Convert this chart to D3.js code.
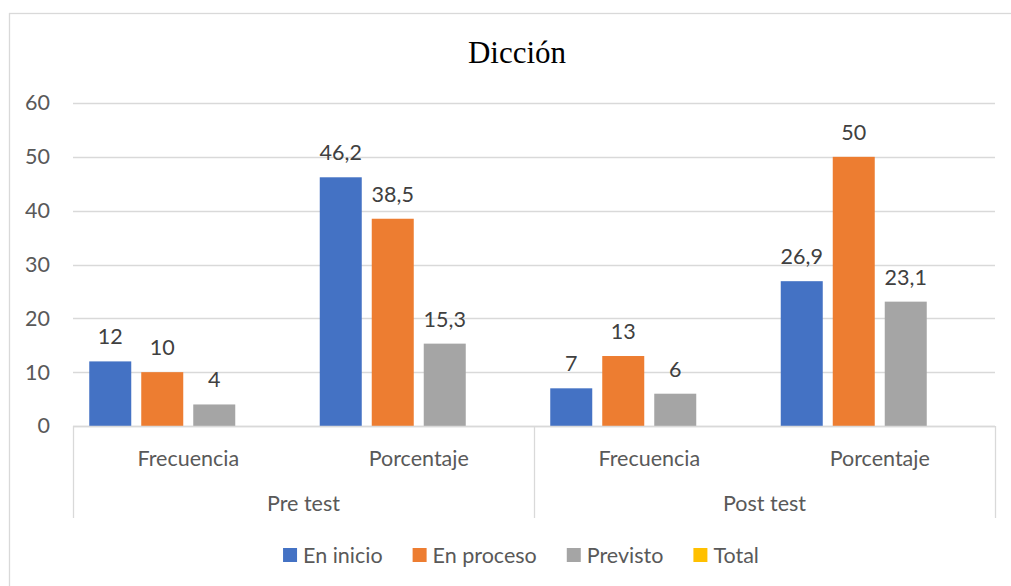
<!DOCTYPE html>
<html>
<head>
<meta charset="utf-8">
<script src="https://cdn.jsdelivr.net/npm/d3@7"></script>
<style>
  html, body { margin: 0; padding: 0; background: #fff; }
  svg { display: block; }
</style>
</head>
<body>
<svg id="chart" width="1011" height="586"></svg>
<script>
// ---- data ----
const title = "Dicción";
const groups = ["Pre test", "Post test"];
const subCategories = ["Frecuencia", "Porcentaje"];
const seriesNames = ["En inicio", "En proceso", "Previsto", "Total"];
const seriesColors = ["#4472C4", "#ED7D31", "#A5A5A5", "#FFC000"];
const enInicio   = [12, 46.2, 7, 26.9];
const enProceso  = [10, 38.5, 13, 50];
const previsto   = [4, 15.3, 6, 23.1];
const total      = [null, null, null, null];
const yTicks = [0, 10, 20, 30, 40, 50, 60];

const seriesValues = [enInicio, enProceso, previsto, total];
const categories = [];
groups.forEach(g => subCategories.forEach(s => categories.push({ key: g + "|" + s, group: g, sub: s })));

const labelFont = "Lato, 'Open Sans', sans-serif";
const fs = 21.5;
const fmt = d3.formatLocale({ decimal: ",", thousands: ".", grouping: [3], currency: ["", ""] });
const fmtVal = v => (Number.isInteger(v) ? String(v) : fmt.format(".1f")(v));

const svg = d3.select("#chart");

// chart border (only top and left visible)
svg.append("rect").attr("x", 9.5).attr("y", 13.5).attr("width", 1040).attr("height", 600)
  .attr("fill", "none").attr("stroke", "#d9d9d9").attr("stroke-width", 1.3);

const plot = { left: 73, right: 995, top: 103, bottom: 426 };

const x0 = d3.scaleBand().domain(categories.map(c => c.key)).range([plot.left, plot.right]).padding(0);
const x1 = d3.scaleBand().domain(seriesNames).range([0, x0.bandwidth()]).paddingInner(0.1923).paddingOuter(0.3125);
const y = d3.scaleLinear().domain([0, 60]).range([plot.bottom, plot.top]);

// gridlines
svg.append("g").selectAll("line").data(yTicks).join("line")
  .attr("x1", plot.left).attr("x2", plot.right)
  .attr("y1", d => Math.round(y(d)) + 0.5).attr("y2", d => Math.round(y(d)) + 0.5)
  .attr("stroke", "#d9d9d9").attr("stroke-width", 1.3);

// y axis labels
const yAxis = d3.axisLeft(y).tickValues(yTicks).tickSize(0).tickPadding(0).tickFormat(d3.format("d"));
const yg = svg.append("g").attr("transform", `translate(50,0)`).call(yAxis);
yg.select(".domain").remove();
yg.selectAll("text").attr("font-family", labelFont).attr("font-size", fs).attr("fill", "#595959");

// bars
const catG = svg.append("g").selectAll("g").data(categories).join("g")
  .attr("transform", d => `translate(${x0(d.key)},0)`);

catG.each(function (c, ci) {
  const g = d3.select(this);
  const data = seriesNames.map((s, si) => ({ s, si, v: seriesValues[si][ci] })).filter(d => d.v != null);
  g.selectAll("rect").data(data).join("rect")
    .attr("x", d => x1(d.s)).attr("width", x1.bandwidth())
    .attr("y", d => y(d.v)).attr("height", d => y(0) - y(d.v))
    .attr("fill", d => seriesColors[d.si]);
  g.selectAll("text").data(data).join("text")
    .attr("x", d => x1(d.s) + x1.bandwidth() / 2)
    .attr("y", d => y(d.v) - 17)
    .attr("text-anchor", "middle")
    .attr("font-family", labelFont).attr("font-size", fs).attr("fill", "#404040")
    .text(d => fmtVal(d.v));
});

// x axis line and category dividers
svg.append("line").attr("x1", plot.left).attr("x2", plot.right)
  .attr("y1", plot.bottom + 0.5).attr("y2", plot.bottom + 0.5)
  .attr("stroke", "#d9d9d9").attr("stroke-width", 1.3);

const groupEdges = [plot.left].concat(groups.map((g, i) => x0(g + "|" + subCategories[subCategories.length - 1]) + x0.bandwidth()));
svg.append("g").selectAll("line").data(groupEdges).join("line")
  .attr("x1", d => Math.round(d) + 0.5).attr("x2", d => Math.round(d) + 0.5)
  .attr("y1", plot.bottom).attr("y2", 518)
  .attr("stroke", "#d9d9d9").attr("stroke-width", 1.3);

// sub category labels
svg.append("g").selectAll("text").data(categories).join("text")
  .attr("x", d => x0(d.key) + x0.bandwidth() / 2)
  .attr("y", 458).attr("dy", "0.35em")
  .attr("text-anchor", "middle")
  .attr("font-family", labelFont).attr("font-size", fs).attr("fill", "#595959")
  .text(d => d.sub);

// group labels
svg.append("g").selectAll("text").data(groups).join("text")
  .attr("x", g => (x0(g + "|" + subCategories[0]) + x0(g + "|" + subCategories[subCategories.length - 1]) + x0.bandwidth()) / 2)
  .attr("y", 503).attr("dy", "0.35em")
  .attr("text-anchor", "middle")
  .attr("font-family", labelFont).attr("font-size", fs).attr("fill", "#595959")
  .text(g => g);

// title
svg.append("text").attr("x", 517).attr("y", 63)
  .attr("text-anchor", "middle")
  .attr("font-family", "'Liberation Serif', 'Times New Roman', serif")
  .attr("font-size", 31).attr("fill", "#000")
  .text(title);

// legend
const legend = svg.append("g");
const items = legend.selectAll("g").data(seriesNames).join("g");
items.append("rect").attr("width", 14).attr("height", 14).attr("y", -7)
  .attr("fill", (d, i) => seriesColors[i]);
items.append("text").attr("x", 20).attr("dy", "0.35em")
  .attr("font-family", labelFont).attr("font-size", fs).attr("fill", "#595959")
  .text(d => d);
let widths = [];
items.each(function () { widths.push(this.getBBox().width); });
const gap = 30;
const totalW = d3.sum(widths) + gap * (widths.length - 1);
let cx = 521 - totalW / 2;
items.attr("transform", (d, i) => {
  const t = `translate(${cx},555)`;
  cx += widths[i] + gap;
  return t;
});
</script>
</body>
</html>
